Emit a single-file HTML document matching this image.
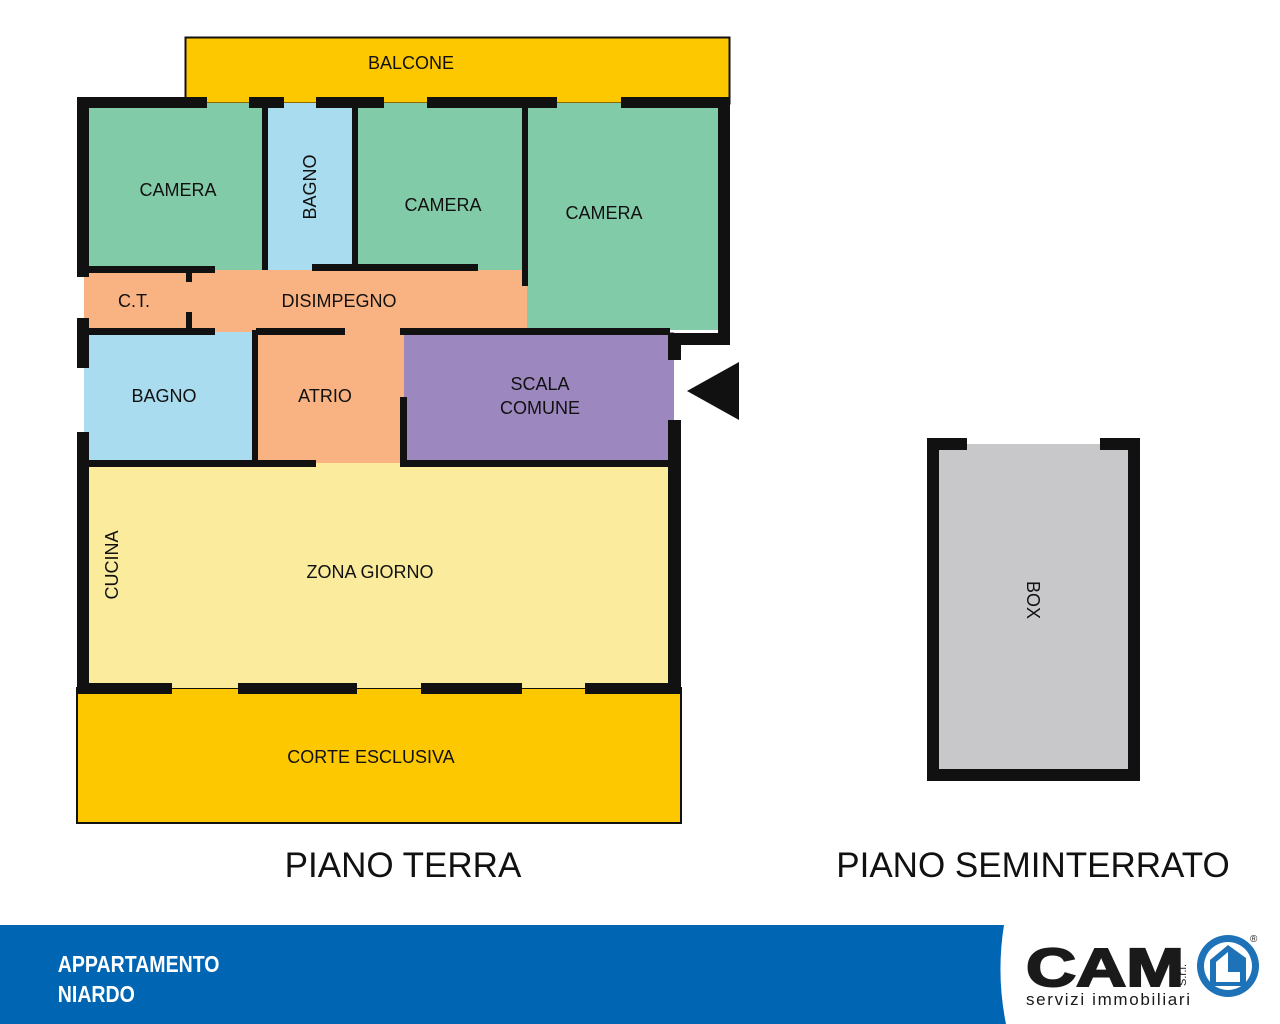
<!DOCTYPE html>
<html><head><meta charset="utf-8"><style>
html,body{margin:0;padding:0;background:#fff;}
svg{display:block;}
text{font-family:"Liberation Sans",sans-serif;fill:#111;}
</style></head><body>
<svg width="1280" height="1024" viewBox="0 0 1280 1024" xmlns="http://www.w3.org/2000/svg">
<rect width="1280" height="1024" fill="#fff"/>
<rect x="185.5" y="37.5" width="544" height="66" fill="#FDC800" stroke="#111" stroke-width="2"/>
<rect x="77" y="688" width="604" height="135" fill="#FDC800" stroke="#111" stroke-width="2"/>
<rect x="84" y="103" width="180" height="168" fill="#82CBA8"/>
<rect x="264" y="103" width="90" height="168" fill="#A9DCEF"/>
<rect x="354" y="103" width="172" height="168" fill="#82CBA8"/>
<rect x="524" y="103" width="196" height="227" fill="#82CBA8"/>
<rect x="84" y="270" width="443" height="62" fill="#F9B382"/>
<rect x="84" y="332" width="172" height="131" fill="#A9DCEF"/>
<rect x="254" y="332" width="150" height="131" fill="#F9B382"/>
<rect x="404" y="332" width="270" height="131" fill="#9C87BF"/>
<rect x="84" y="463" width="588" height="225" fill="#FBEB9C"/>
<g fill="#111">
<rect x="77" y="97" width="130" height="11"/>
<rect x="249" y="97" width="35" height="11"/>
<rect x="316" y="97" width="68" height="11"/>
<rect x="427" y="97" width="130" height="11"/>
<rect x="621" y="97" width="109" height="11"/>
<rect x="718" y="97" width="12" height="248"/>
<rect x="668" y="333" width="62" height="12"/>
<rect x="668" y="333" width="13" height="27"/>
<rect x="668" y="420" width="13" height="270"/>
<rect x="77" y="97" width="12" height="180"/>
<rect x="77" y="318" width="12" height="50"/>
<rect x="77" y="432" width="12" height="258"/>
<rect x="262" y="108" width="6" height="162"/>
<rect x="352" y="108" width="6" height="160"/>
<rect x="522" y="108" width="6" height="178"/>
<rect x="77" y="266" width="138" height="7"/>
<rect x="312" y="264" width="166" height="7"/>
<rect x="186" y="270" width="6" height="12"/>
<rect x="186" y="312" width="6" height="18"/>
<rect x="77" y="328" width="138" height="7"/>
<rect x="256" y="328" width="89" height="7"/>
<rect x="400" y="328" width="270" height="7"/>
<rect x="252" y="330" width="6" height="134"/>
<rect x="400" y="397" width="7" height="67"/>
<rect x="77" y="460" width="239" height="7"/>
<rect x="400" y="460" width="270" height="7"/>
<rect x="77" y="683" width="95" height="11"/>
<rect x="238" y="683" width="119" height="11"/>
<rect x="421" y="683" width="101" height="11"/>
<rect x="585" y="683" width="96" height="11"/>
<polygon points="687,391 739,362 739,420"/>
</g>
<rect x="933" y="444" width="201" height="331" fill="#C8C8CA"/>
<g fill="#111">
<rect x="927" y="438" width="40" height="12"/>
<rect x="1100" y="438" width="40" height="12"/>
<rect x="927" y="438" width="12" height="343"/>
<rect x="1128" y="438" width="12" height="343"/>
<rect x="927" y="769" width="213" height="12"/>
</g>
<g font-size="18" text-anchor="middle">
<text x="411" y="69">BALCONE</text>
<text x="178" y="196">CAMERA</text>
<text x="443" y="211">CAMERA</text>
<text x="604" y="219">CAMERA</text>
<text transform="translate(316,187) rotate(-90)">BAGNO</text>
<text x="134" y="307">C.T.</text>
<text x="339" y="307">DISIMPEGNO</text>
<text x="164" y="402">BAGNO</text>
<text x="325" y="402">ATRIO</text>
<text x="540" y="390">SCALA</text>
<text x="540" y="414">COMUNE</text>
<text transform="translate(118,565) rotate(-90)">CUCINA</text>
<text x="370" y="578">ZONA GIORNO</text>
<text x="371" y="763">CORTE ESCLUSIVA</text>
<text transform="translate(1027,600) rotate(90)">BOX</text>
</g>
<g font-size="35" text-anchor="middle">
<text x="403" y="877">PIANO TERRA</text>
<text x="1033" y="877">PIANO SEMINTERRATO</text>
</g>
<path d="M0,925 L1004,925 Q996,975 1006,1024 L0,1024 Z" fill="#0066B3"/>
<g font-size="23" font-weight="bold" transform="scale(0.85,1)">
<text x="68" y="972" style="fill:#fff">APPARTAMENTO</text>
<text x="68" y="1002" style="fill:#fff">NIARDO</text>
</g>
<text x="1026" y="986" font-size="54" font-weight="bold" textLength="158" lengthAdjust="spacingAndGlyphs" style="fill:#1a1a1a;stroke:#1a1a1a;stroke-width:2">CAM</text>
<text transform="translate(1186,986) rotate(-90)" font-size="11" style="fill:#1a1a1a">S.r.l.</text>
<text x="1026" y="1005" font-size="17" textLength="164" style="fill:#1a1a1a">servizi immobiliari</text>
<circle cx="1228" cy="966" r="31" fill="#1E72B8"/>
<circle cx="1228" cy="966" r="24" fill="#fff"/>
<path d="M1210,960 L1228,945 L1246,958 L1246,986 L1210,986 Z" fill="#1E72B8"/>
<path d="M1216,962 L1228,952 L1228,972 L1240,972 L1240,982 L1216,982 Z" fill="#fff"/>
<text x="1250" y="942" font-size="10" style="fill:#1a1a1a">®</text>
</svg>
</body></html>
